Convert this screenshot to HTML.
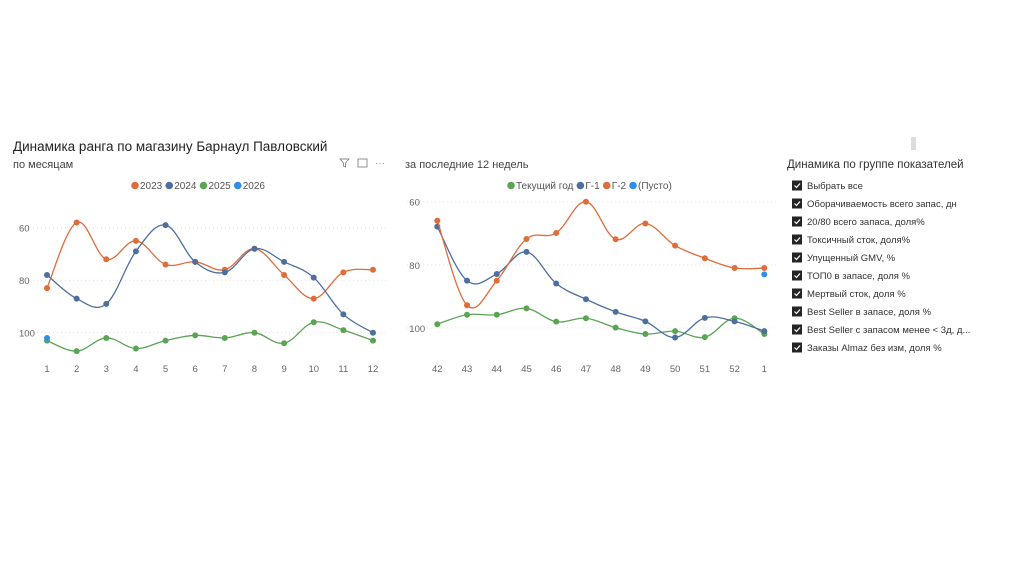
<!DOCTYPE html>
<html><head><meta charset="utf-8">
<style>
html,body{margin:0;padding:0;background:#fff;width:1024px;height:574px;overflow:hidden;font-family:"Liberation Sans","DejaVu Sans",sans-serif}
svg{position:absolute;left:0;top:0}
</style></head>
<body>
<svg id="svg" width="1024" height="574" xmlns="http://www.w3.org/2000/svg">
<text x="13" y="151" font-size="13.5" fill="#252423">Динамика ранга по магазину Барнаул Павловский</text>
<text x="13" y="168" font-size="11" fill="#444">по месяцам</text>
<g stroke="#888" fill="none" stroke-width="0.9"><path d="M340 159 h9 l-3.5 4 v4 l-2 -1 v-3 z"/></g>
<g stroke="#888" fill="none" stroke-width="0.9"><rect x="358" y="159" width="9" height="8"/></g>
<text x="375" y="166" font-size="10" fill="#888">···</text>
<text x="405" y="168" font-size="11" fill="#444">за последние 12 недель</text>
<rect x="911" y="137" width="5" height="13" fill="#ddd"/>
<text x="787" y="168" font-size="11.5" fill="#333">Динамика по группе показателей</text>
<g id="left"></g>
<g id="right"></g>
<g id="slicer"></g>
</svg>
<script>
// Left chart data
const monthCats = [1,2,3,4,5,6,7,8,9,10,11,12];
const s2023 = [83,58,72,65,74,73,76,68,78,87,77,76];
const s2024 = [78,87,89,69,59,73,77,68,73,79,93,100];
const s2025 = [103,107,102,106,103,101,102,100,104,96,99,103];
const s2026 = [102];
const leftTicks = [60,80,100];
// Right chart data
const weekCats = ["42","43","44","45","46","47","48","49","50","51","52","1"];
const sCur = [98.8,95.8,95.8,93.8,98,96.9,99.9,101.9,101,102.9,96.9,101.9];
const sG1 = [67.9,85,82.9,75.9,85.9,90.9,94.9,97.9,103,96.8,97.9,101];
const sG2 = [66,92.8,85,71.8,69.9,60,71.9,66.9,73.9,77.9,81,81];
const sEmpty = [null,null,null,null,null,null,null,null,null,null,null,83];
const rightTicks = [60,80,100];
const slicerItems = ["Выбрать все","Оборачиваемость всего запас, дн","20/80 всего запаса, доля%","Токсичный сток, доля%","Упущенный GMV, %","ТОП0 в запасе, доля %","Мертвый сток, доля %","Best Seller в запасе, доля %","Best Seller с запасом менее < 3д, д...","Заказы Almaz без изм, доля %"];

const NS="http://www.w3.org/2000/svg";
function mk(tag,attrs,parent){const e=document.createElementNS(NS,tag);for(const k in attrs)e.setAttribute(k,attrs[k]);parent.appendChild(e);return e;}
function smooth(pts){
  if(pts.length<2)return "";
  let d="M"+pts[0][0]+" "+pts[0][1];
  for(let i=0;i<pts.length-1;i++){
    const p0=pts[i-1]||pts[i],p1=pts[i],p2=pts[i+1],p3=pts[i+2]||p2;
    const t=0.18;
    const c1=[p1[0]+(p2[0]-p0[0])*t,p1[1]+(p2[1]-p0[1])*t];
    const c2=[p2[0]-(p3[0]-p1[0])*t,p2[1]-(p3[1]-p1[1])*t];
    d+=" C"+c1[0]+" "+c1[1]+" "+c2[0]+" "+c2[1]+" "+p2[0]+" "+p2[1];
  }
  return d;
}
function chart(g,cats,series,ticks,x0,x1,yTop,yBot,legend,legX,legY){
  const xs=i=>x0+(x1-x0)*i/(cats.length-1);
  const ys=v=>yTop+(v-60)*(yBot-yTop)/40;
  const axisRight = x1+15;
  ticks.forEach(t=>{
    const l=mk('line',{x1:x0-30,x2:axisRight,y1:ys(t),y2:ys(t),stroke:'#ddd','stroke-dasharray':'1,3'},g);
    
    
    const tx=mk('text',{x:x0-28,y:ys(t)+4,'font-size':'9.5',fill:'#666'},g);tx.textContent=t;
    
    
  });
  cats.forEach((c,i)=>{
    const tx=mk('text',{x:xs(i),y:372,'font-size':'9.5',fill:'#666','text-anchor':'middle'},g);tx.textContent=c;
    
    
  });
  series.forEach(s=>{
    const pts=[];s.data.forEach((v,i)=>{if(v!=null)pts.push([xs(i),ys(v)]);});
    if(pts.length>1){const p=mk('path',{d:smooth(pts),fill:'none',stroke:s.color,'stroke-width':'1.3'},g);
      
      }
    pts.forEach((p,i)=>{const c=mk('circle',{cx:p[0],cy:p[1],r:3,fill:s.color},g);
      
      });
  });
  let lx=legX;
  series.forEach(s=>{
    const c=mk('circle',{cx:lx+4,cy:legY-3.5,r:3.8,fill:s.color},g);
    
    
    const t=mk('text',{x:lx+9,y:legY,'font-size':'10',fill:'#555'},g);t.textContent=s.label;
    
    
    lx+=9+t.getComputedTextLength()+3;
  });
}
chart(document.getElementById('left'),monthCats,[
  {name:'2023',label:'2023',data:s2023,color:'#e06c3a'},
  {name:'2024',label:'2024',data:s2024,color:'#4e6f9e'},
  {name:'2025',label:'2025',data:s2025,color:'#5aa454'},
  {name:'2026',label:'2026',data:s2026,color:'#2f8fe8'}
],leftTicks,47,373,227.7,332.7,true,131,189);
chart(document.getElementById('right'),weekCats,[
  {name:'current',label:'Текущий год',data:sCur,color:'#5aa454'},
  {name:'g1',label:'Г-1',data:sG1,color:'#4e6f9e'},
  {name:'g2',label:'Г-2',data:sG2,color:'#e06c3a'},
  {name:'empty',label:'(Пусто)',data:sEmpty,color:'#2f8fe8'}
],rightTicks,437.3,764.3,201.7,328,true,507,189);
const sl=document.getElementById('slicer');
slicerItems.forEach((s,i)=>{
  const y=185.5+i*18;
  const r=mk('rect',{x:792,y:y-5,width:10,height:10,fill:'#252423'},sl);
  
  
  mk('path',{d:`M794.5 ${y} l2 2 l3.5 -4`,stroke:'#fff','stroke-width':'1.2',fill:'none'},sl);
  const t=mk('text',{x:807,y:y+3.5,'font-size':'9.5',fill:'#333'},sl);t.textContent=s;
  
  
});
</script>
</body></html>
